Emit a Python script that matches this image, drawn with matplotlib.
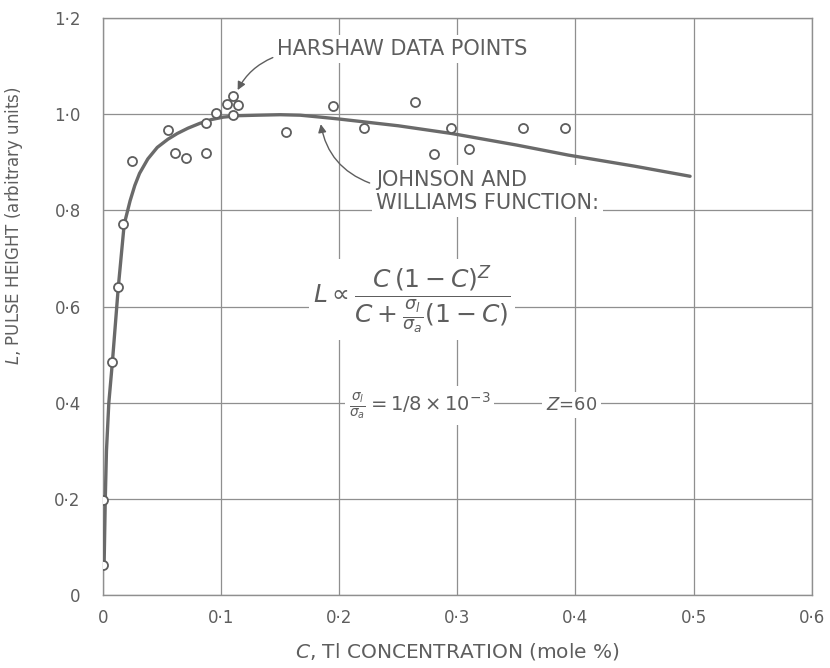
import matplotlib.pyplot as plt
import numpy as np

# Harshaw data points (C in mole %, L in arbitrary units)
harshaw_c = [0.0, 0.0, 0.008, 0.013, 0.017, 0.025, 0.055, 0.061, 0.070, 0.087,
             0.087, 0.096, 0.105, 0.110, 0.114, 0.110, 0.155, 0.195, 0.221,
             0.264, 0.280, 0.295, 0.310, 0.356, 0.391]
harshaw_l = [0.062, 0.197, 0.484, 0.640, 0.771, 0.902, 0.967, 0.919, 0.908, 0.919,
             0.981, 1.002, 1.021, 1.037, 1.019, 0.998, 0.963, 1.017, 0.971,
             1.025, 0.917, 0.971, 0.927, 0.971, 0.971]

# Johnson and Williams curve
curve_c = [0.001, 0.002, 0.003, 0.005, 0.008, 0.013, 0.018, 0.023, 0.027, 0.031,
           0.038, 0.046, 0.055, 0.063, 0.072, 0.082, 0.092, 0.102, 0.115, 0.131,
           0.150, 0.167, 0.184, 0.200, 0.250, 0.295, 0.350, 0.394, 0.450, 0.497]
curve_l = [0.062, 0.200, 0.300, 0.400, 0.484, 0.640, 0.771, 0.820, 0.852, 0.877,
           0.907, 0.931, 0.948, 0.960, 0.971, 0.981, 0.989, 0.994, 0.997, 0.998,
           0.999, 0.998, 0.994, 0.990, 0.976, 0.960, 0.936, 0.915, 0.892, 0.871]

x_ticks = [0, 0.1, 0.2, 0.3, 0.4, 0.5, 0.6]
x_labels = ["0", "0·1", "0·2", "0·3", "0·4", "0·5", "0·6"]
y_ticks = [0, 0.2, 0.4, 0.6, 0.8, 1.0, 1.2]
y_labels = ["0", "0·2", "0·4", "0·6", "0·8", "1·0", "1·2"]

ink = "#5e5e5e"
grid = "#8f8f8f"

plt.rcParams["font.family"] = ["DejaVu Sans"]
plt.rcParams["mathtext.fontset"] = "dejavusans"

fig = plt.figure(figsize=(8.3, 6.68), dpi=100)
ax = fig.add_axes([0.124, 0.109, 0.854, 0.864])

ax.plot(curve_c, curve_l, color="#6a6a6a", linewidth=2.4, zorder=3,
        solid_capstyle="round", solid_joinstyle="round")
ax.plot(harshaw_c, harshaw_l, linestyle="none", marker="o", markersize=6.5,
        markerfacecolor="white", markeredgecolor=ink, markeredgewidth=1.3,
        zorder=4)

ax.set_xlim(0, 0.6)
ax.set_ylim(0, 1.2)
ax.set_xticks(x_ticks)
ax.set_xticklabels(x_labels)
ax.set_yticks(y_ticks)
ax.set_yticklabels(y_labels)
ax.tick_params(length=0, labelsize=12, labelcolor=ink)
ax.tick_params(axis="y", pad=16)
ax.tick_params(axis="x", pad=10)
ax.grid(True, color=grid, linewidth=0.9)
ax.set_axisbelow(True)
for s in ax.spines.values():
    s.set_color(grid)
    s.set_linewidth(1.0)

ax.set_xlabel("$C$, Tl CONCENTRATION (mole %)", fontsize=14.5, color=ink,
              labelpad=10)
ax.set_ylabel("$L$, PULSE HEIGHT (arbitrary units)", fontsize=12, color=ink)
ax.yaxis.set_label_coords(-0.11, 0.64)

box = dict(facecolor="white", edgecolor="none", pad=3)

# annotations
ax.text(0.147, 1.135, "HARSHAW DATA POINTS", fontsize=15, color=ink,
        ha="left", va="center", bbox=box, zorder=2)
ax.annotate("", xy=(0.113, 1.045), xytext=(0.146, 1.12),
            arrowprops=dict(arrowstyle="-|>", color=ink, lw=1.0,
                            connectionstyle="arc3,rad=0.2", mutation_scale=12))
ax.text(0.231, 0.84, "JOHNSON AND\nWILLIAMS FUNCTION:", fontsize=15,
        color=ink, ha="left", va="center", linespacing=1.2, bbox=box,
        zorder=2)
ax.annotate("", xy=(0.184, 0.985), xytext=(0.228, 0.855),
            arrowprops=dict(arrowstyle="-|>", color=ink, lw=1.0,
                            connectionstyle="arc3,rad=-0.3", mutation_scale=12))

ax.text(0.178, 0.615,
        r"$L \propto \dfrac{C\,(1-C)^{Z}}{C+\frac{\sigma_l}{\sigma_a}(1-C)}$",
        fontsize=18, color=ink, ha="left", va="center", bbox=box, zorder=2)
ax.text(0.208, 0.395, r"$\frac{\sigma_l}{\sigma_a} = 1/8 \times 10^{-3}$",
        fontsize=14, color=ink, ha="left", va="center", bbox=box, zorder=2)
ax.text(0.375, 0.395, r"$Z$=60", fontsize=13, color=ink, ha="left",
        va="center", bbox=box, zorder=2)

fig.savefig("out.png", dpi=100, facecolor="white")
